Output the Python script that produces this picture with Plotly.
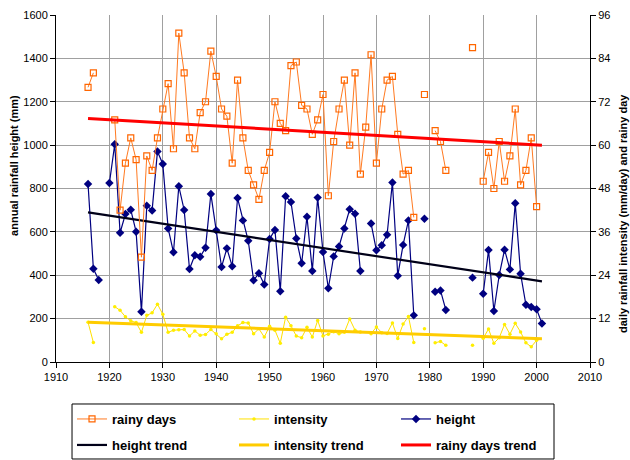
import plotly.graph_objects as go

years = list(range(1916, 2002))

rainy_days = [76, 80, None, None, None, 67, 42, 55, 62, 56,
              29, 57, 53, 62, 70, 77, 59, 91, 80, 62,
              59, 69, 72, 86, 79, 70, 68, 55, 78, 62,
              53, 49, 45, 53, 58, 72, 66, 64, 82, 83,
              71, 70, 63, 67, 74, 46, 61, 70, 78, 60,
              80, 52, 65, 85, 55, 70, 78, 79, 63, 52,
              53, 40, None, 74, None, 64, 61, 53, None, None,
              None, None, 87, None, 50, 58, 48, 61, 50, 57,
              70, 49, 53, 62, 43, None]

height = [821, 430, 378, None, 825, 1004, 596, 682, 702, 601,
          232, 721, 699, 971, 913, 616, 506, 810, 701, 429,
          492, 485, 527, 775, 607, 438, 524, 441, 756, 653,
          559, 377, 409, 357, 567, 609, 326, 764, 738, 569,
          455, 670, 420, 758, 507, 340, 487, 533, 616, 704,
          684, 420, None, 639, 515, 538, 587, 828, 398, 540,
          653, 215, None, 661, None, 324, 330, 240, None, None,
          None, None, 389, None, 315, 516, 235, 401, 518, 427,
          732, 407, 264, 254, 243, 178]

intensity = [11.0, 5.4, None, None, None, 15.3, 14.3, 12.5, 11.4, 10.9,
             8.2, 12.9, 13.6, 16.0, 13.2, 8.2, 8.8, 8.9, 9.0, 7.2,
             8.6, 7.4, 7.6, 9.0, 7.8, 6.4, 7.7, 8.2, 10.0, 10.9,
             10.8, 7.8, 9.2, 6.9, 9.9, 8.8, 5.2, 12.4, 10.0, 7.2,
             6.7, 9.6, 6.9, 11.5, 7.2, 7.7, 8.4, 7.8, 8.2, 11.9,
             8.8, 8.3, None, 7.8, 9.7, 8.1, 7.9, 10.8, 6.5, 10.5,
             12.6, 5.4, None, 9.2, None, 5.3, 5.7, 4.6, None, None,
             None, None, 4.6, None, 6.6, 9.1, 5.2, 6.7, 10.4, 7.7,
             10.7, 8.3, 5.3, 4.2, 6.0, None]

trend_years = [1916, 2001]
height_trend = [690, 372]
intensity_trend = [11.0, 6.45]
rainy_trend = [67.4, 60.0]

x_ticks = list(range(1910, 2011, 10))
left_ticks = list(range(0, 1601, 200))
right_ticks = list(range(0, 97, 12))

FONT = "Liberation Sans, Arial, sans-serif"

fig = go.Figure()
fig.add_trace(go.Scatter(
    x=years, y=rainy_days, name="rainy days", yaxis="y2", mode="lines+markers",
    line=dict(color="#FF7A21", width=1),
    marker=dict(symbol="square-open", size=6, color="#FF6600", line=dict(width=1.2)),
    connectgaps=False, legend="legend"))
fig.add_trace(go.Scatter(
    x=years, y=intensity, name="intensity", yaxis="y2", mode="lines+markers",
    line=dict(color="#FFE000", width=1),
    marker=dict(symbol="circle", size=3.5, color="#FFEE00"),
    connectgaps=False, legend="legend"))
fig.add_trace(go.Scatter(
    x=years, y=height, name="height", yaxis="y", mode="lines+markers",
    line=dict(color="#000080", width=1.2),
    marker=dict(symbol="diamond", size=6.5, color="#000080"),
    connectgaps=False, legend="legend"))
fig.add_trace(go.Scatter(
    x=trend_years, y=height_trend, name="height trend", yaxis="y", mode="lines",
    line=dict(color="#000018", width=2.2), legend="legend2"))
fig.add_trace(go.Scatter(
    x=trend_years, y=intensity_trend, name="intensity trend", yaxis="y2", mode="lines",
    line=dict(color="#FFCC00", width=3), legend="legend2"))
fig.add_trace(go.Scatter(
    x=trend_years, y=rainy_trend, name="rainy days trend", yaxis="y2", mode="lines",
    line=dict(color="#FF0000", width=3), legend="legend2"))

legend_common = dict(orientation="h", x=0.03, xanchor="left", yanchor="middle",
                     bgcolor="rgba(255,255,255,0)", borderwidth=0,
                     font=dict(family=FONT, size=13, color="black", weight="bold"),
                     entrywidth=117, itemwidth=30, traceorder="normal")

fig.add_shape(type="rect", xref="paper", yref="paper",
              x0=0.03, x1=0.9326, y0=-0.2795, y1=-0.121,
              line=dict(color="black", width=1), opacity=1, layer="above")

fig.update_layout(
    width=630, height=460,
    margin=dict(l=56, r=40, t=15, b=98, autoexpand=False),
    paper_bgcolor="white", plot_bgcolor="white",
    font=dict(family=FONT, size=11, color="black"),
    hovermode=False,
    xaxis=dict(range=[1910, 2010], tickvals=x_ticks, ticks="outside", ticklen=5,
               tickcolor="black", showline=True, linecolor="black", linewidth=1,
               showgrid=True, gridcolor="#A0A0A0", gridwidth=1, zeroline=False,
               tickfont=dict(size=11), automargin=False),
    yaxis=dict(range=[0, 1600], tickvals=left_ticks, ticks="outside", ticklen=5,
               tickcolor="black", showline=True, linecolor="black", linewidth=1,
               showgrid=True, gridcolor="#A0A0A0", gridwidth=1, zeroline=False,
               tickfont=dict(size=11), automargin=False),
    yaxis2=dict(range=[0, 96], tickvals=right_ticks, ticks="outside", ticklen=5,
                tickcolor="black", showline=True, linecolor="black", linewidth=1,
                overlaying="y", side="right", showgrid=False, zeroline=False,
                tickfont=dict(size=11), automargin=False),
    legend=dict(y=-0.1643, **legend_common),
    legend2=dict(y=-0.2392, **legend_common),
    annotations=[
        dict(text="annual rainfall height (mm)", xref="paper", yref="paper",
             x=-0.0787, y=0.568, xanchor="center", yanchor="middle",
             textangle=-90, showarrow=False,
             font=dict(family=FONT, size=11, weight="bold")),
        dict(text="daily rainfall intensity (mm/day) and rainy day", xref="paper",
             yref="paper", x=1.0618, y=0.4265, xanchor="center", yanchor="middle",
             textangle=-90, showarrow=False,
             font=dict(family=FONT, size=11, weight="bold")),
    ],
)

fig.write_html("out.html", config={"displayModeBar": False},
               post_script="document.body.style.margin='0';document.body.style.padding='0';")
